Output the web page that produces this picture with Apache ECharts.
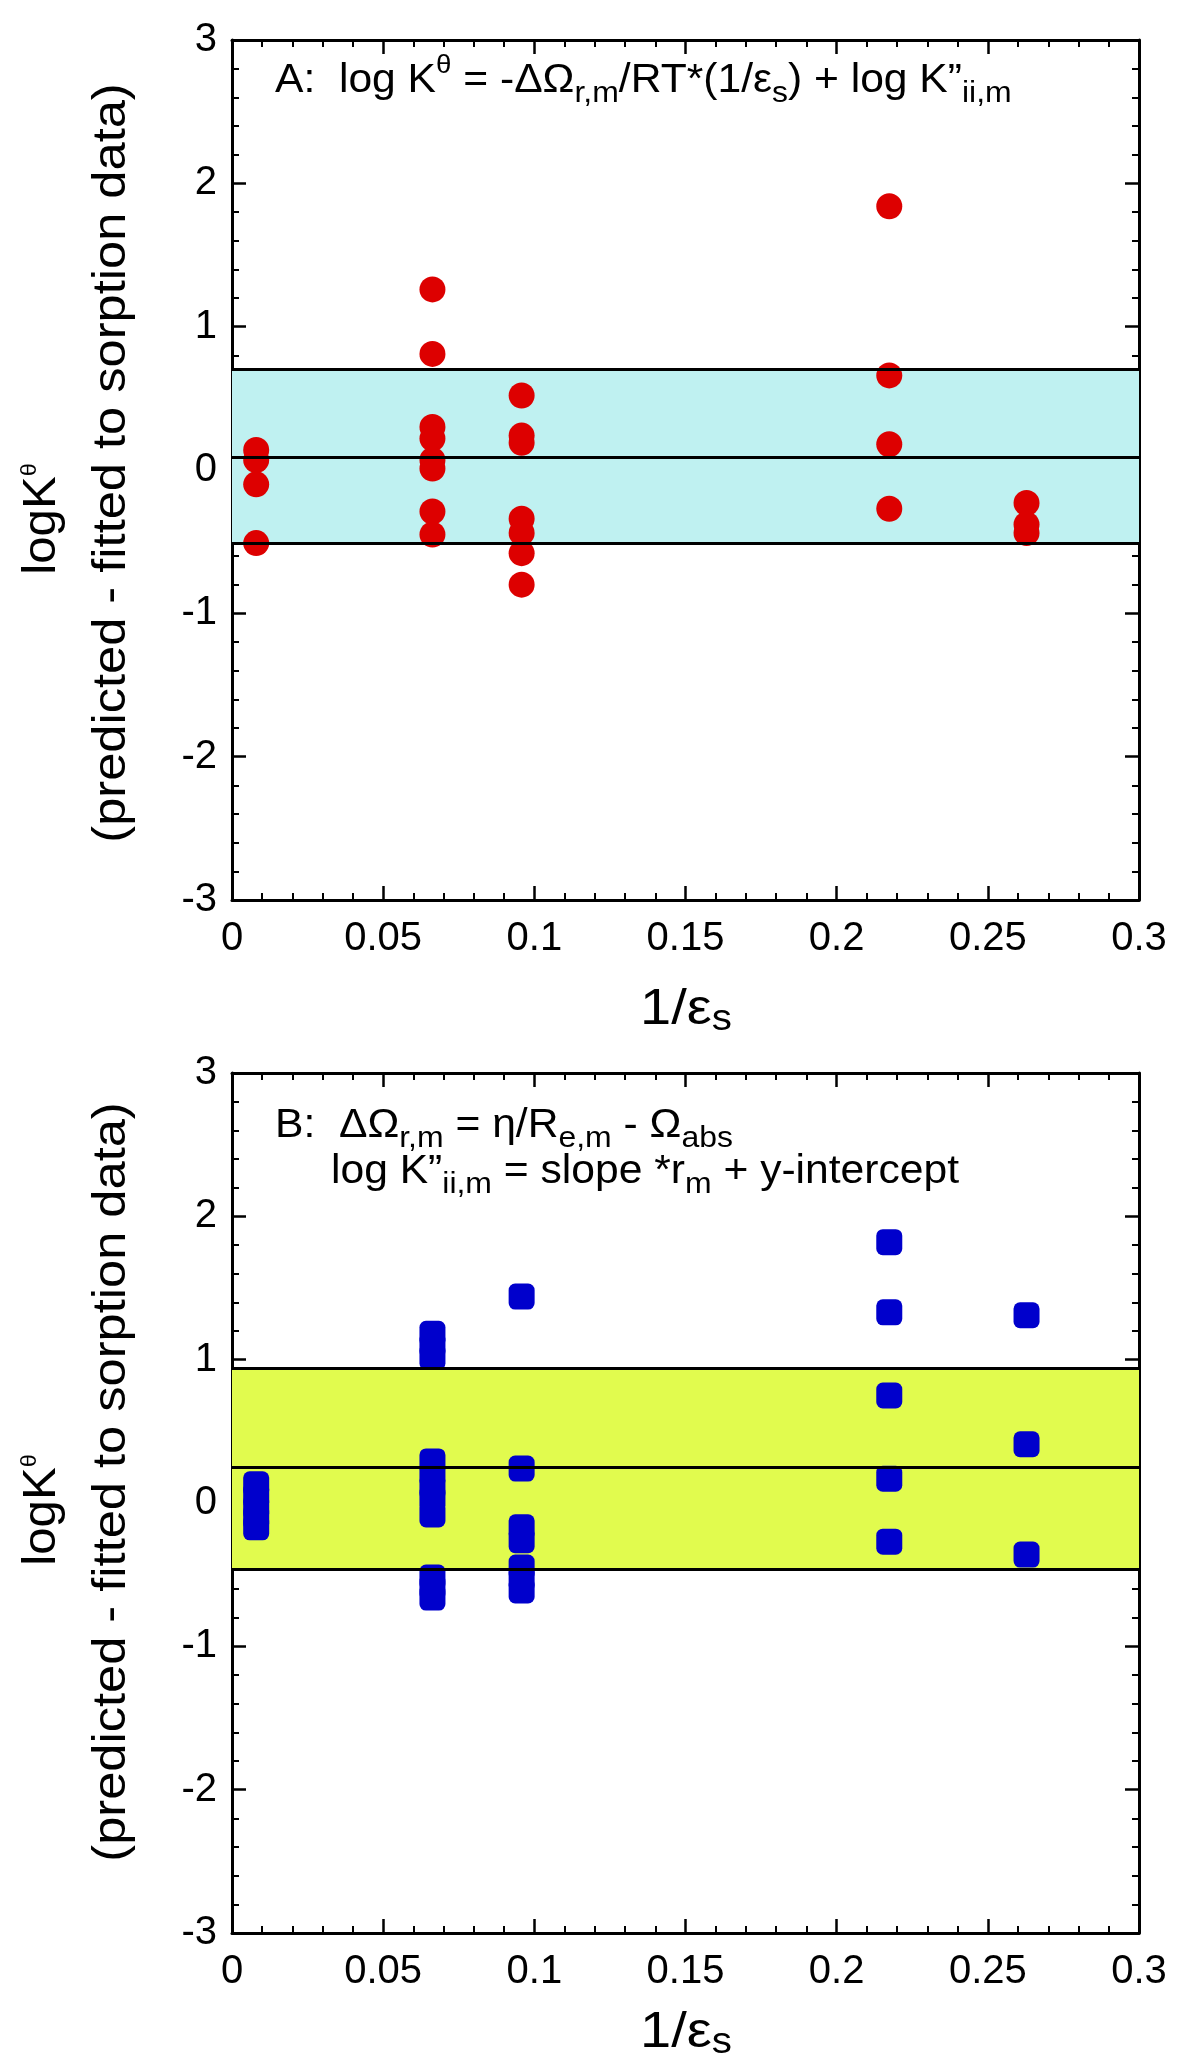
<!DOCTYPE html>
<html><head><meta charset="utf-8">
<script src="https://cdn.jsdelivr.net/npm/echarts@6/dist/echarts.min.js"></script>
<style>html,body{margin:0;padding:0;background:#fff}#c{width:1200px;height:2064px}</style>
</head><body><div id="c"></div>
<script>
// ---- data ----
const xPositions = [0.008, 0.0663, 0.0958, 0.2174, 0.2628];
const panelAValues = [
  [0.14, 0.07, -0.10, -0.51],
  [1.26, 0.81, 0.30, 0.22, 0.07, 0.01, -0.29, -0.45],
  [0.52, 0.24, 0.19, -0.34, -0.44, -0.58, -0.80],
  [1.84, 0.66, 0.18, -0.27],
  [-0.23, -0.38, -0.44]
];
const panelBValues = [
  [0.13, 0.05, -0.03, -0.10, -0.17],
  [1.18, 1.10, 1.02, 0.29, 0.20, 0.11, 0.03, -0.08, -0.52, -0.59, -0.66],
  [1.44, 0.24, -0.17, -0.26, -0.45, -0.53, -0.61],
  [1.82, 1.33, 0.75, 0.17, -0.27],
  [1.31, 0.41, -0.36]
];
const bandA = [-0.505, 0.09, 0.70];   // lower, middle, upper
const bandB = [-0.455, 0.25, 0.935];
const xRange = [0, 0.3], xStep = 0.05;
const yRange = [-3, 3], yStep = 1;

const FONT = '"Liberation Sans", Arial, Helvetica, sans-serif';

function pts(values) {
  const out = [];
  xPositions.forEach((x, i) => values[i].forEach(v => out.push([x, v])));
  return out;
}

function xAxes(gi) {
  const base = {
    gridIndex: gi, type: 'value', min: xRange[0], max: xRange[1], interval: xStep,
    axisLine: { show: true, onZero: false, lineStyle: { color: '#000', width: 3 } },
    axisTick: { show: true, inside: true, length: 14, lineStyle: { color: '#000', width: 2.5 } },
    minorTick: { show: true, splitNumber: 5, length: 7, lineStyle: { color: '#000', width: 2 } },
    splitLine: { show: false }, minorSplitLine: { show: false }
  };
  return [
    Object.assign({}, base, { position: 'bottom',
      axisLabel: { show: true, margin: 19, fontSize: 40, color: '#000', fontFamily: FONT,
        showMinLabel: true, showMaxLabel: true,
        formatter: v => String(Math.round(v * 100) / 100) } }),
    Object.assign({}, base, { position: 'top', axisLabel: { show: false } })
  ];
}
function yAxes(gi) {
  const base = {
    gridIndex: gi, type: 'value', min: yRange[0], max: yRange[1], interval: yStep,
    axisLine: { show: true, onZero: false, lineStyle: { color: '#000', width: 3 } },
    axisTick: { show: true, inside: true, length: 14, lineStyle: { color: '#000', width: 2.5 } },
    minorTick: { show: true, splitNumber: 5, length: 7, lineStyle: { color: '#000', width: 2 } },
    splitLine: { show: false }, minorSplitLine: { show: false }
  };
  return [
    Object.assign({}, base, { position: 'left',
      axisLabel: { show: true, margin: 15, fontSize: 40, color: '#000', fontFamily: FONT,
        showMinLabel: true, showMaxLabel: true } }),
    Object.assign({}, base, { position: 'right', axisLabel: { show: false } })
  ];
}

function bandMarks(band, color) {
  return {
    markArea: { silent: true, itemStyle: { color: color }, data: [[{ yAxis: band[0] }, { yAxis: band[2] }]] },
    markLine: { silent: true, symbol: 'none', label: { show: false },
      lineStyle: { color: '#000', width: 3, type: 'solid' },
      data: band.map(v => ({ yAxis: v })) }
  };
}

const richSS = {
  sub: { fontFamily: FONT, fontSize: 30, lineHeight: 34, verticalAlign: 'bottom', fill: '#000' },
  sup: { fontFamily: FONT, fontSize: 26, lineHeight: 48, verticalAlign: 'top', fill: '#000' }
};
function formula(text, x, y) {
  return { type: 'text', x: x, y: y, scaleX: 1.065, silent: true,
    style: { text: text, fontFamily: FONT, fontSize: 40, lineHeight: 56, fill: '#000',
      align: 'left', verticalAlign: 'top', rich: richSS } };
}
function xTitle(y) {
  return { type: 'text', x: 686, y: y, scaleX: 1.12, silent: true,
    style: { text: '1/ε{s|s}', fontFamily: FONT, fontSize: 50, lineHeight: 56, fill: '#000',
      align: 'center', verticalAlign: 'middle',
      rich: { s: { fontFamily: FONT, fontSize: 36, lineHeight: 22, verticalAlign: 'bottom', fill: '#000' } } } };
}
function yTitle1(cy) {
  return { type: 'text', x: 42, y: cy, rotation: Math.PI / 2, scaleX: 1.07, silent: true,
    style: { text: 'logK{t|θ}', fontFamily: FONT, fontSize: 46, lineHeight: 46, fill: '#000',
      align: 'center', verticalAlign: 'middle',
      rich: { t: { fontFamily: FONT, fontSize: 22, lineHeight: 23, verticalAlign: 'top', fill: '#000' } } } };
}
function yTitle2(cy) {
  return { type: 'text', x: 112, y: cy, rotation: Math.PI / 2, scaleX: 1.1, silent: true,
    style: { text: '(predicted - fitted to sorption data)', fontFamily: FONT, fontSize: 46, lineHeight: 46,
      fill: '#000', align: 'center', verticalAlign: 'middle' } };
}

const chart = echarts.init(document.getElementById('c'), null, { renderer: 'canvas' });
chart.setOption({
  animation: false,
  backgroundColor: '#fff',
  textStyle: { fontFamily: FONT, color: '#000' },
  grid: [
    { left: 232, top: 40, width: 907, height: 860, outerBoundsMode: 'none', containLabel: false },
    { left: 232, top: 1073, width: 907, height: 860, outerBoundsMode: 'none', containLabel: false }
  ],
  xAxis: xAxes(0).concat(xAxes(1)),
  yAxis: yAxes(0).concat(yAxes(1)),
  series: [
    Object.assign({ type: 'scatter', name: 'A', xAxisIndex: 0, yAxisIndex: 0,
      symbol: 'circle', symbolSize: 26, itemStyle: { color: '#DD0000', opacity: 1 },
      data: pts(panelAValues) }, bandMarks(bandA, '#BFF1F1')),
    Object.assign({ type: 'scatter', name: 'B', xAxisIndex: 2, yAxisIndex: 2,
      symbol: 'roundRect', symbolSize: 26, itemStyle: { color: '#0000CC', opacity: 1 },
      data: pts(panelBValues) }, bandMarks(bandB, '#E1FB4E'))
  ],
  graphic: [
    formula('A:  log K{sup|θ} = -ΔΩ{sub|r,m}/RT*(1/ε{sub|s}) + log K”{sub|ii,m}', 275, 53),
    formula('B:  ΔΩ{sub|r,m} = η/R{sub|e,m} - Ω{sub|abs}', 275, 1098),
    formula('log K”{sub|ii,m} = slope *r{sub|m} + y-intercept', 331, 1144),
    xTitle(1010), xTitle(2033),
    yTitle1(519), yTitle2(463),
    yTitle1(1510), yTitle2(1482)
  ]
});
</script></body></html>
